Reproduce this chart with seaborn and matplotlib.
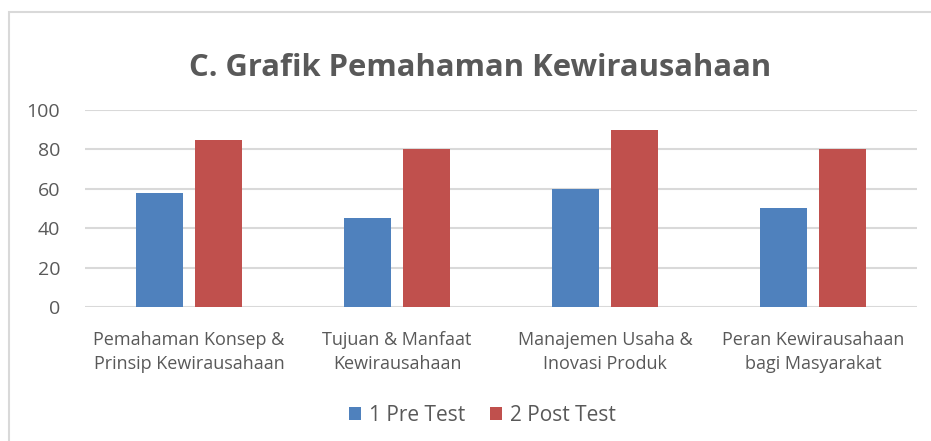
import pandas as pd
import numpy as np
import matplotlib.pyplot as plt
import seaborn as sns
from matplotlib.patches import Rectangle

categories = ["Pemahaman Konsep &\nPrinsip Kewirausahaan",
              "Tujuan & Manfaat\nKewirausahaan",
              "Manajemen Usaha &\nInovasi Produk",
              "Peran Kewirausahaan\nbagi Masyarakat"]
series_names = ["1 Pre Test", "2 Post Test"]
pre_test = [58, 45, 60, 50]
post_test = [85, 80, 90, 80]

df = pd.DataFrame({
    "kategori": categories * 2,
    "seri": [series_names[0]] * 4 + [series_names[1]] * 4,
    "nilai": pre_test + post_test,
})

sns.set_theme(style="white")
plt.rcParams["font.family"] = ["Open Sans", "DejaVu Sans"]
text_color = "#595959"
grid_color = "#D9D9D9"

fig = plt.figure(figsize=(9.31, 4.41), dpi=100)
ax = fig.add_axes([0.0913, 0.3039, 0.8937, 0.4467])

sns.barplot(data=df, x="kategori", y="nilai", hue="seri",
            palette=["#4F81BD", "#C0504D"], width=0.568, gap=0.205,
            saturation=1, linewidth=0, ax=ax, zorder=3)

ax.set_ylim(0, 100)
ax.set_yticks(np.arange(0, 101, 20))
ax.set_xlim(-0.5, 3.5)
ax.yaxis.grid(True, color=grid_color, linewidth=1.5, zorder=0)
ax.set_axisbelow(True)
for s in ax.spines.values():
    s.set_visible(False)
ax.set_xlabel("")
ax.set_ylabel("")
ax.tick_params(axis="y", length=0, pad=18, labelsize=14, labelcolor=text_color)
ax.tick_params(axis="x", length=0, pad=17, labelsize=13, labelcolor=text_color)
for lbl in ax.get_xticklabels():
    lbl.set_linespacing(1.45)

fig.suptitle("C. Grafik Pemahaman Kewirausahaan", x=0.516, y=0.88,
             fontsize=22.3, fontweight="bold", color=text_color)

leg = ax.legend(loc="center", bbox_to_anchor=(0.518, 0.058),
                bbox_transform=fig.transFigure, ncol=2, frameon=False,
                fontsize=15, handlelength=0.6, handleheight=0.6,
                handletextpad=0.35, columnspacing=1.2)
for t in leg.get_texts():
    t.set_color(text_color)

fig.patches.append(Rectangle((9 / 931, -0.1), 1.2, 1 - 12 / 441 + 0.1,
                             transform=fig.transFigure, fill=False,
                             edgecolor="#D9D9D9", linewidth=1.5))

fig.savefig("out.png", dpi=100, facecolor="white")
